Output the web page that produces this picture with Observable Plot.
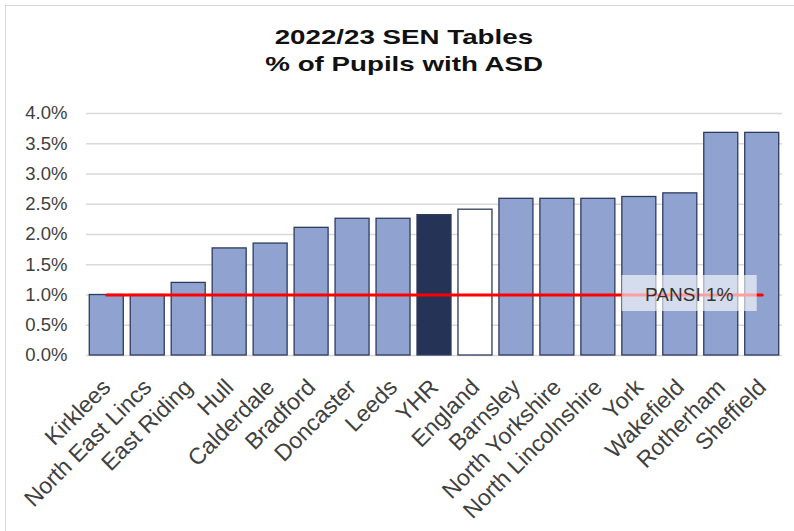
<!DOCTYPE html>
<html><head><meta charset="utf-8">
<script src="https://cdn.jsdelivr.net/npm/d3@7"></script>
<script src="https://cdn.jsdelivr.net/npm/@observablehq/plot@0.6"></script>
<style>
body{margin:0;background:#fff;font-family:"Liberation Sans",Arial,sans-serif;}
#wrap{position:relative;width:794px;height:531px;overflow:hidden;background:#fff;}
#bt{position:absolute;left:5px;top:5px;right:0;height:0;border-top:1.5px solid #d9d9d9;}
#bl{position:absolute;left:5px;top:5px;bottom:0;width:0;border-left:1.5px solid #d9d9d9;}
#title{height:85px;box-sizing:border-box;padding-top:23px;margin-left:14px;text-align:center;font-weight:bold;font-size:21px;line-height:27px;color:#111;}
#title span{display:inline-block;transform:scaleX(1.32);}
#chart svg{display:block;}
</style></head><body>
<div id="wrap"><div id="title"></div><div id="chart"></div><div id="bt"></div><div id="bl"></div></div>
<script>
const titleLines = ["2022/23 SEN Tables", "% of Pupils with ASD"];
const names = ["Kirklees","North East Lincs","East Riding","Hull","Calderdale","Bradford","Doncaster","Leeds","YHR","England","Barnsley","North Yorkshire","North Lincolnshire","York","Wakefield","Rotherham","Sheffield"];
const values = [1.0,1.0,1.2,1.77,1.85,2.11,2.26,2.26,2.32,2.41,2.59,2.59,2.59,2.62,2.68,3.68,3.68];
const yTicks = [0,0.5,1,1.5,2,2.5,3,3.5,4];
const pansiValue = 1.0;
const pansiText = "PANSI 1%";

const titleEl = document.getElementById("title");
titleLines.forEach((t,i)=>{ if(i) titleEl.appendChild(document.createElement("br")); const s=document.createElement("span"); s.textContent=t; titleEl.appendChild(s); });

const kindOf = n => n === "YHR" ? "region" : n === "England" ? "national" : "la";
const fills = {la:"#8FA2D0", region:"#253357", national:"#FFFFFF"};
const data = names.map((name,i)=>({name, value: values[i], kind: kindOf(name)}));
const pansiLine = [{name: names[0], value: pansiValue}, {name: names[names.length-1], value: pansiValue}];
const pansiLabel = [{name: names[names.length-1], value: pansiValue, label: pansiText}];
const rectSymbol = {draw(ctx){ ctx.rect(-67.5,-18,135,36); }};

const chart = Plot.plot({
  width:794, height:446, marginTop:28, marginBottom:176, marginLeft:86, marginRight:12,
  style:{fontFamily:'"Liberation Sans", Arial, sans-serif', background:"transparent", overflow:"visible"},
  x:{type:"band", domain:names, paddingInner:0.17, paddingOuter:0.08, round:false},
  y:{domain:[0,4]},
  color:{type:"identity"},
  marks:[
    Plot.ruleY(yTicks,{stroke:"#d9d9d9", strokeWidth:1.3}),
    Plot.barY(data,{x:"name", y:"value", fill:d=>fills[d.kind], stroke:"#2E3B5E", strokeWidth:1.3}),
    Plot.line(pansiLine,{x:"name", y:"value", stroke:"#FF0000", strokeWidth:3}),
    Plot.dot(pansiLabel,{x:"name", y:"value", symbol:rectSymbol, fill:"#FFFFFF", fillOpacity:0.62, dx:-73, dy:-2}),
    Plot.text(pansiLabel,{x:"name", y:"value", text:"label", dx:-73, fontSize:19, fill:"#333333"}),
    Plot.axisY({ticks:yTicks, tickFormat:d=>d.toFixed(1)+"%", tickSize:0, tickPadding:19, fontSize:18.5, color:"#404040", label:null}),
    Plot.axisX({tickRotate:-45, tickSize:0, tickPadding:10, fontSize:23, color:"#404040", label:null, dx:0, dy:18})
  ]
});
document.getElementById("chart").appendChild(chart);
</script>
</body></html>
